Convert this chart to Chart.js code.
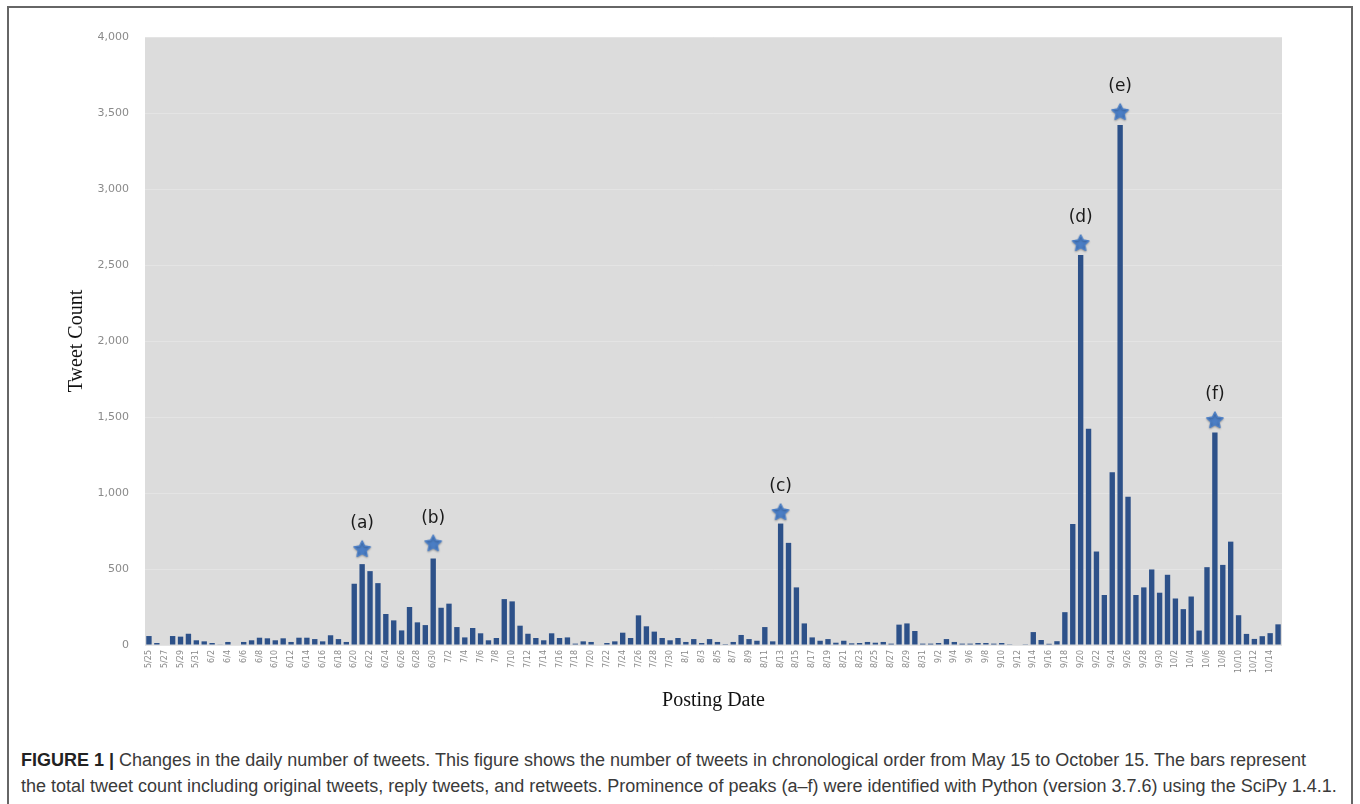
<!DOCTYPE html>
<html>
<head>
<meta charset="utf-8">
<script src="https://cdn.jsdelivr.net/npm/chart.js@4/dist/chart.umd.min.js"></script>
<style>
  body { margin: 0; background: #fff; width: 1360px; height: 804px; overflow: hidden; position: relative; }
  #marco { position: absolute; left: 7px; top: 6px; width: 1346px; height: 820px; border: 2px solid #666; box-sizing: border-box; }
  #grafico { position: absolute; left: 0; top: 0; }
  #leyenda { position: absolute; left: 21px; top: 747px; width: 1330px; font-family: "Liberation Sans", Arial, sans-serif; font-size: 18px; line-height: 26px; color: #3a3a3a; white-space: nowrap; }
  #leyenda b { color: #222; }
</style>
</head>
<body>
<div id="marco"></div>
<canvas id="grafico" width="1360" height="720"></canvas>
<div id="leyenda">
  <div><b>FIGURE 1 |</b> Changes in the daily number of tweets. This figure shows the number of tweets in chronological order from May 15 to October 15. The bars represent</div>
  <div>the total tweet count including original tweets, reply tweets, and retweets. Prominence of peaks (a–f) were identified with Python (version 3.7.6) using the SciPy 1.4.1.</div>
</div>
<script>
// dias por mes (desde 5/25 hasta 10/15)
const meses = [[5, 25, 31], [6, 1, 30], [7, 1, 31], [8, 1, 31], [9, 1, 30], [10, 1, 15]];

const tweetsMayo = [59, 13, 0, 59, 55, 74, 31];
const tweetsJunio = [24, 13, 4, 20, 0, 20, 31, 48, 44, 31, 44, 20, 48, 48, 39, 24, 64, 39, 20, 403,
    532, 486, 407, 204, 162, 96, 250, 149, 131, 569];
const tweetsJulio = [245, 272, 118, 50, 112, 77, 31, 46, 302, 287, 127, 74, 46, 31, 77, 46, 50, 9, 24, 20,
    0, 13, 24, 81, 46, 195, 123, 88, 46, 31, 46];
const tweetsAgosto = [20, 39, 13, 39, 20, 6, 20, 66, 39, 28, 118, 24, 799, 672, 379, 142, 50, 28, 39, 15,
    28, 11, 13, 20, 15, 20, 9, 134, 142, 92, 9];
const tweetsSeptiembre = [9, 13, 39, 20, 9, 9, 13, 13, 9, 13, 5, 0, 5, 85, 33, 8, 25, 216, 796, 2565,
    1423, 615, 329, 1137, 3421, 976, 329, 379, 497, 344];
const tweetsOctubre = [462, 306, 236, 319, 95, 512, 1398, 527, 680, 196, 73, 40, 58, 78, 136];

// picos marcados con estrella
const picosFecha = ['6/21', '6/30', '8/13', '9/20', '9/25', '10/7'];
const picosEstrella = [632, 670, 875, 2645, 3507, 1480];
const picosNombre = ['(a)', '(b)', '(c)', '(d)', '(e)', '(f)'];

const fechas = [];
meses.forEach(([m, desde, hasta]) => {
    for (let d = desde; d <= hasta; d++) fechas.push(`${m}/${d}`);
});
const tweets = [...tweetsMayo, ...tweetsJunio, ...tweetsJulio, ...tweetsAgosto, ...tweetsSeptiembre, ...tweetsOctubre];

// estrella rellena para los picos
const crearEstrella = () => {
    const c = document.createElement('canvas');
    c.width = 24;
    c.height = 24;
    const ctx = c.getContext('2d');
    ctx.shadowColor = 'rgba(0,0,0,0.25)';
    ctx.shadowBlur = 2;
    ctx.shadowOffsetY = 1;
    ctx.beginPath();
    for (let i = 0; i < 10; i++) {
        const r = i % 2 === 0 ? 8.5 : 4.2;
        const a = -Math.PI / 2 + i * Math.PI / 5;
        const x = 12 + r * Math.cos(a);
        const y = 12.5 + r * Math.sin(a);
        i === 0 ? ctx.moveTo(x, y) : ctx.lineTo(x, y);
    }
    ctx.closePath();
    ctx.fillStyle = '#4b7ec5';
    ctx.strokeStyle = '#4b7ec5';
    ctx.lineJoin = 'round';
    ctx.lineWidth = 1.5;
    ctx.fill();
    ctx.stroke();
    return c;
};

const fondoGris = {
    id: 'fondoGris',
    beforeDraw: (chart) => {
        const { ctx, chartArea: a } = chart;
        ctx.save();
        ctx.fillStyle = '#dcdcdc';
        ctx.fillRect(a.left, a.top, a.right - a.left, a.bottom - a.top);
        ctx.restore();
    }
};

const etiquetasPicos = {
    id: 'etiquetasPicos',
    afterDatasetsDraw: (chart) => {
        const { ctx } = chart;
        const meta = chart.getDatasetMeta(1);
        ctx.save();
        ctx.fillStyle = '#1a1a1a';
        ctx.font = '17px "DejaVu Sans"';
        ctx.textAlign = 'center';
        ctx.textBaseline = 'middle';
        meta.data.forEach((p, i) => {
            ctx.fillText(picosNombre[i], p.x, p.y - 25);
        });
        ctx.restore();
    }
};

const graph = new Chart(document.querySelector('#grafico'), {
    data: {
        labels: fechas,
        datasets: [{
            type: 'bar',
            label: 'Tweet Count',
            data: tweets,
            backgroundColor: '#2d5189',
            categoryPercentage: 1,
            barPercentage: 0.68,
            order: 1
        }, {
            type: 'line',
            label: 'Peaks',
            data: picosFecha.map((f, i) => ({ x: f, y: picosEstrella[i] })),
            showLine: false,
            pointStyle: crearEstrella(),
            order: 0
        }]
    },
    options: {
        responsive: false,
        animation: false,
        layout: { padding: { left: 60, top: 37, right: 78, bottom: 0 } },
        plugins: {
            legend: { display: false },
            tooltip: { enabled: false }
        },
        scales: {
            x: {
                afterFit: (scale) => { scale.height = 75; },
                grid: { display: false, drawTicks: false },
                border: { display: false },
                ticks: {
                    autoSkip: false,
                    minRotation: 90,
                    maxRotation: 90,
                    padding: 5,
                    color: '#8a8a8a',
                    font: { family: 'DejaVu Sans', size: 8 },
                    callback: (v, i) => i % 2 === 0 ? fechas[i] : ''
                },
                title: {
                    display: true,
                    text: 'Posting Date',
                    color: '#111',
                    font: { family: 'Liberation Serif', size: 20 },
                    padding: { top: 0, bottom: 7 }
                }
            },
            y: {
                min: 0,
                max: 4000,
                afterFit: (scale) => { scale.width = 85; },
                grid: { color: '#e4e4e4', drawTicks: false },
                border: { display: false },
                ticks: {
                    stepSize: 500,
                    padding: 16,
                    color: '#8a8a8a',
                    font: { family: 'DejaVu Sans', size: 11 },
                    callback: (v) => v.toLocaleString('en-US')
                },
                title: {
                    display: true,
                    text: 'Tweet Count',
                    color: '#111',
                    font: { family: 'Liberation Serif', size: 20 },
                    padding: { top: 5, bottom: 0 }
                }
            }
        }
    },
    plugins: [fondoGris, etiquetasPicos]
});
</script>
</body>
</html>
